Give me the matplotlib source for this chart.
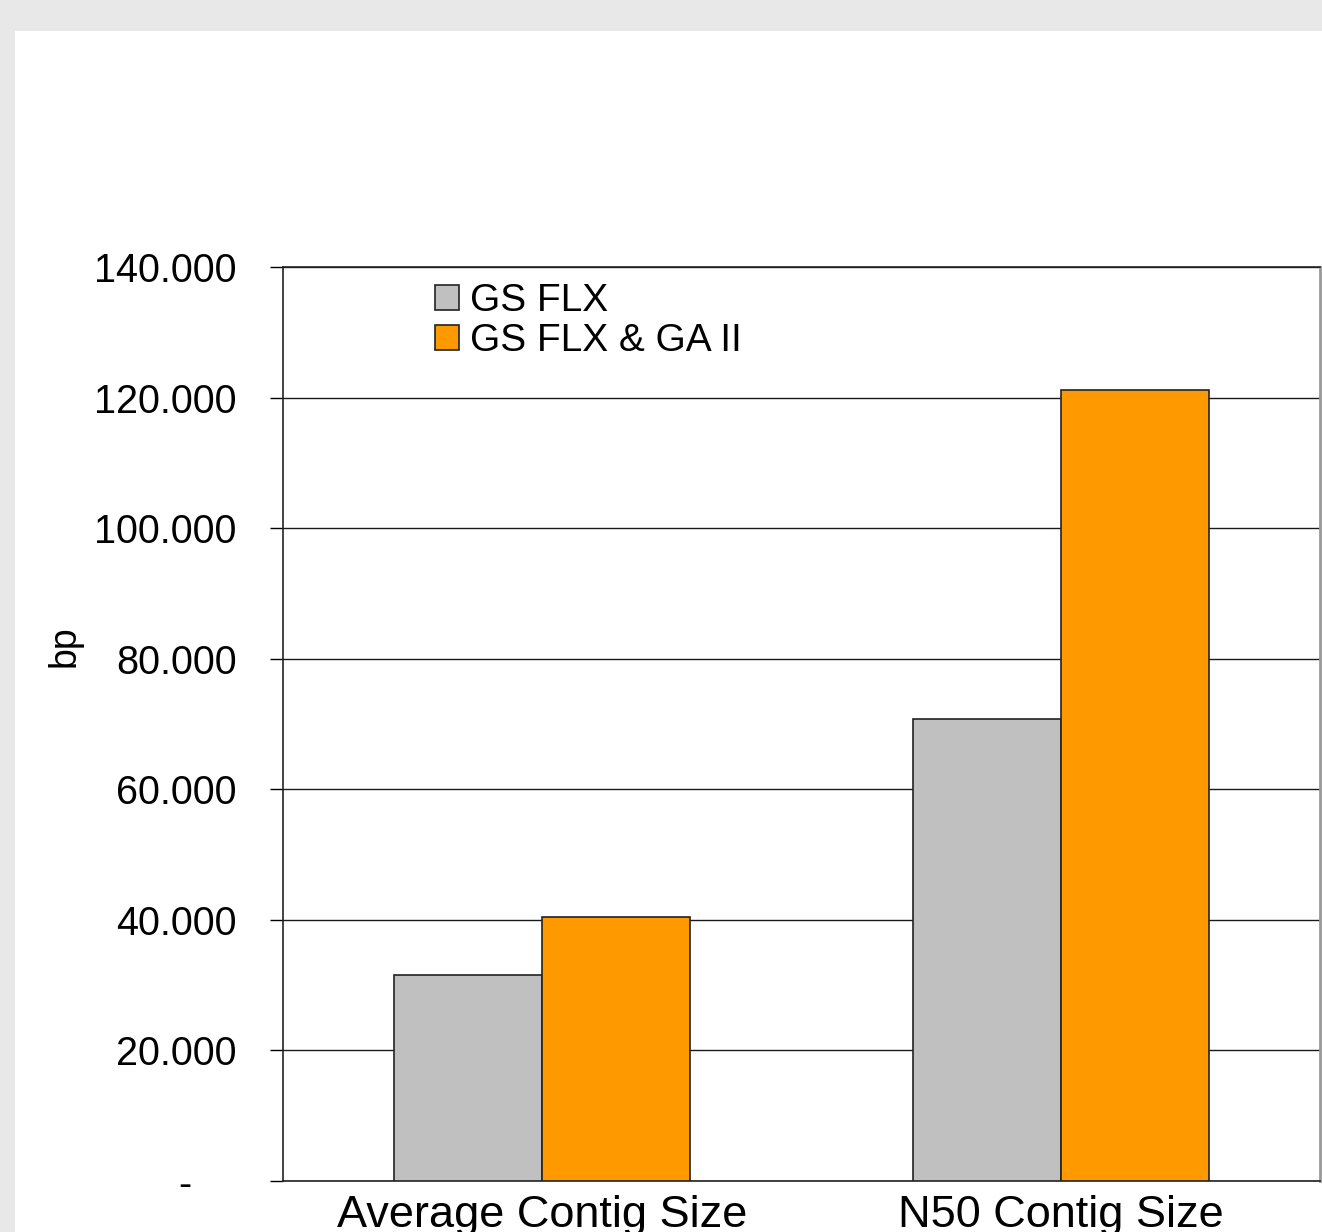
import numpy as np
import matplotlib
matplotlib.use("Agg")
import matplotlib.pyplot as plt
from matplotlib.patches import Rectangle
from matplotlib.ticker import FuncFormatter

categories = ["Average Contig Size", "N50 Contig Size"]
series = ["GS FLX", "GS FLX & GA II"]
gs_flx = [31600, 70800]
gs_flx_ga = [40400, 121200]
colors = ["#c0c0c0", "#ff9900"]

plt.rcParams['font.family'] = ['Liberation Sans', 'DejaVu Sans']

fig = plt.figure(figsize=(13.22, 12.32), dpi=100, facecolor="#e8e8e8")
# white slide panel
fig.patches.append(Rectangle((15 / 1322, 0), 1, (1232 - 31) / 1232,
                             transform=fig.transFigure, facecolor="white",
                             edgecolor="none", zorder=-5))

W, H = 1322, 1232
ax = fig.add_axes([283 / W, (H - 1181) / H, (1320 - 283) / W, (1181 - 267) / H])
ax.set_facecolor("white")
ax.set_zorder(2)

x = np.arange(len(categories))
w = 0.285
ax.bar(x - w / 2, gs_flx, w, color=colors[0], edgecolor="#222222", linewidth=1.2,
       label=series[0], zorder=3)
ax.bar(x + w / 2, gs_flx_ga, w, color=colors[1], edgecolor="#222222", linewidth=1.2,
       label=series[1], zorder=3)

ax.set_xlim(-0.5, 1.5)
ax.set_ylim(0, 140000)
ax.set_yticks(np.arange(0, 140001, 20000))


def fmt(v, pos):
    if v == 0:
        return "-    "
    return "{:,.0f}".format(v).replace(",", ".")


ax.yaxis.set_major_formatter(FuncFormatter(fmt))
ax.yaxis.grid(True, color="#1a1a1a", linewidth=1.0, zorder=1)
ax.set_axisbelow(True)

ax.set_xticks(x)
ax.set_xticklabels(categories, fontsize=32.5)
ax.tick_params(axis="x", length=0, pad=10)
ax.tick_params(axis="y", length=9.5, width=1.0, pad=24, labelsize=28.5, direction="out")

for s in ["left", "top", "bottom"]:
    ax.spines[s].set_color("#222222")
    ax.spines[s].set_linewidth(1.2)
ax.spines["right"].set_color("#999999")
ax.spines["right"].set_linewidth(2)

ax.set_ylabel("bp", fontsize=27)
ax.yaxis.set_label_coords(-0.193, 0.585)

ax.legend(loc="upper left", bbox_to_anchor=(0.12, 1.012), frameon=False, fontsize=28,
          handlelength=0.62, handleheight=0.62, handletextpad=0.3, labelspacing=0.1,
          borderaxespad=0.3)

fig.savefig("out.png", dpi=100, facecolor=fig.get_facecolor())
